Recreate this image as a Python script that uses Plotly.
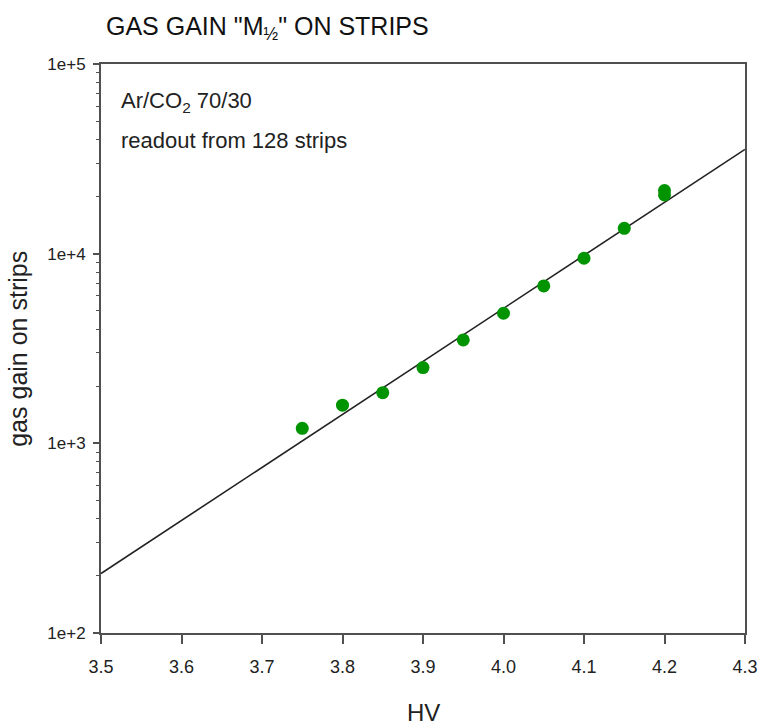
import plotly.graph_objects as go

# Measured gas gain on strips vs. high voltage (Ar/CO2 70/30)
hv = [3.75, 3.80, 3.85, 3.90, 3.95, 4.00, 4.05, 4.10, 4.15, 4.20, 4.20]
gain = [1200, 1590, 1850, 2510, 3510, 4850, 6760, 9460, 13600, 21500, 20400]

# Exponential fit (straight line on log scale)
fit_hv = [3.5, 4.3]
fit_gain = [206, 35500]

x_ticks = [3.5, 3.6, 3.7, 3.8, 3.9, 4.0, 4.1, 4.2, 4.3]
y_tick_vals = [1e2, 1e3, 1e4, 1e5]
y_tick_text = ["1e+2", "1e+3", "1e+4", "1e+5"]

# minor ticks at 2..9 within each decade
y_minor = [m * 10 ** e for e in (2, 3, 4) for m in range(2, 10)]

SANS = "Liberation Sans, Arial, sans-serif"
AXIS_COLOR = "#505050"
TEXT = "#222222"

W, H = 763, 728
L, R, T, B = 101, 18, 64, 95

fig = go.Figure()

fig.add_trace(go.Scatter(
    x=fit_hv, y=fit_gain, mode="lines",
    line=dict(color="#222222", width=1.6),
    hoverinfo="skip", showlegend=False,
))

fig.add_trace(go.Scatter(
    x=hv, y=gain, mode="markers",
    marker=dict(color="#009400", size=13, line=dict(width=0)),
    showlegend=False,
))

fig.update_xaxes(
    range=[3.5, 4.3], tickvals=x_ticks, tickformat=".1f",
    showgrid=False, zeroline=False,
    showline=True, linecolor=AXIS_COLOR, linewidth=2, mirror=True,
    ticks="outside", ticklen=9, tickwidth=2, tickcolor=AXIS_COLOR,
    tickfont=dict(family=SANS, size=18, color=TEXT),
    ticklabelstandoff=7,
)

fig.update_yaxes(
    type="log", range=[2, 5],
    tickmode="array", tickvals=y_tick_vals, ticktext=y_tick_text,
    showgrid=False, zeroline=False,
    showline=True, linecolor=AXIS_COLOR, linewidth=2, mirror=True,
    ticks="outside", ticklen=6, tickwidth=2, tickcolor=AXIS_COLOR,
    tickfont=dict(family=SANS, size=17, color=TEXT),
    ticklabelstandoff=4,
    minor=dict(ticks="outside", ticklen=3, tickwidth=1.2,
               tickcolor=AXIS_COLOR, tickmode="array", tickvals=y_minor,
               showgrid=False),
)

annotations = [
    dict(text="Ar/CO<sub>2</sub> 70/30", x=0.028, y=0.933,
         xref="paper", yref="paper", xanchor="left", yanchor="middle",
         showarrow=False, font=dict(family=SANS, size=22, color=TEXT)),
    dict(text="readout from 128 strips", x=0.028, y=0.866,
         xref="paper", yref="paper", xanchor="left", yanchor="middle",
         showarrow=False, font=dict(family=SANS, size=22, color=TEXT)),
    dict(text="HV", x=0.5, y=-0.14,
         xref="paper", yref="paper", xanchor="center", yanchor="middle",
         showarrow=False, font=dict(family=SANS, size=24, color=TEXT)),
    dict(text="gas gain on strips", x=-0.13, y=0.5, textangle=-90,
         xref="paper", yref="paper", xanchor="center", yanchor="middle",
         showarrow=False, font=dict(family=SANS, size=25, color=TEXT)),
]

fig.update_layout(
    width=W, height=H,
    margin=dict(l=L, r=R, t=T, b=B, autoexpand=False),
    paper_bgcolor="white", plot_bgcolor="white",
    title=dict(
        text="GAS GAIN \"M<sub>½</sub>\" ON STRIPS",
        x=106 / W, xanchor="left", xref="container",
        y=1 - 26 / H, yanchor="middle", yref="container",
        font=dict(family=SANS, size=25, color="#111111"),
    ),
    annotations=annotations,
)

fig.write_html("out.html")
